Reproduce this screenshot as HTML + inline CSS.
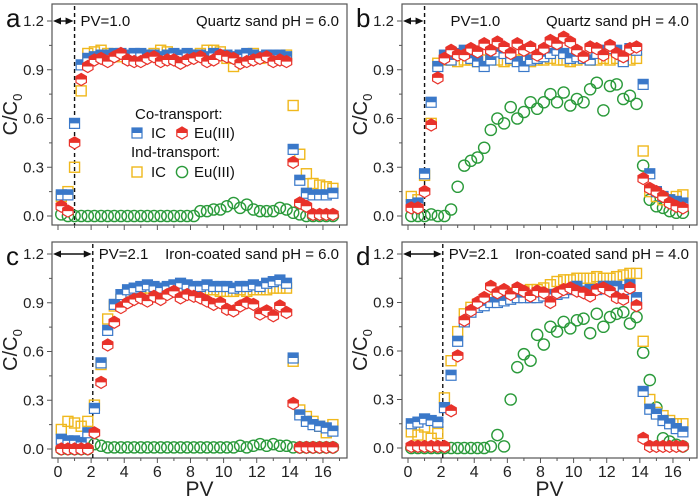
<!DOCTYPE html>
<html><head><meta charset="utf-8"><style>
body{margin:0;background:#fff;}
svg{display:block;font-family:"Liberation Sans",Arial,sans-serif;}
</style></head><body>
<svg id="fig" width="700" height="497" viewBox="0 0 700 497"></svg>
<script>
const pvStart = 0.2, pvStep = 0.4;
const aCoIC=[0.13,0.13,0.57,0.93,0.97,0.98,0.99,0.99,1.0,1.0,0.99,1.0,1.0,0.99,0.99,0.98,0.99,1.0,0.99,1.0,0.99,0.99,0.98,1.0,0.99,0.99,0.98,0.99,1.0,0.99,0.98,0.99,0.99,0.99,0.98,0.41,0.22,0.14,0.13,0.13,0.13,0.14];
const aCoEu=[0.06,0.03,0.45,0.84,0.92,0.96,0.97,0.95,0.98,1.0,0.96,0.95,0.95,0.97,0.98,0.95,0.96,0.96,0.94,0.96,0.97,0.98,0.95,0.96,0.99,0.98,0.97,0.94,0.95,0.96,0.97,0.98,0.95,0.96,0.95,0.33,0.08,0.06,0.01,0.01,0.01,0.01];
const aIndIC=[0.12,0.15,0.3,0.77,1.0,1.01,1.02,1.0,0.99,0.98,0.97,0.98,0.98,0.99,1.0,1.02,1.01,0.99,0.98,0.97,0.99,1.0,1.02,1.02,1.01,0.97,0.92,0.98,0.99,1.0,0.97,0.98,0.96,0.97,0.99,0.68,0.38,0.26,0.2,0.19,0.18,0.17];
const aIndEu=[0.01,0,0,0,0,0,0,0,0,0,0,0,0,0,0,0,0,0,0,0,0,0.03,0.03,0.04,0.04,0.06,0.08,0.05,0.07,0.04,0.03,0.03,0.03,0.05,0.04,0.02,0.01,0,0,0,0,0];
const bCoIC=[0.07,0.08,0.26,0.7,0.92,0.99,0.96,1.0,1.02,0.97,0.95,0.92,0.96,1.01,1.0,0.97,0.95,0.92,0.96,0.97,0.98,1.0,1.02,1.0,0.97,0.98,0.97,0.96,1.0,1.02,1.03,1.02,0.95,1.03,1.02,0.81,0.26,0.15,0.12,0.1,0.09,0.08];
const bCoEu=[0.05,0.05,0.15,0.56,0.85,0.97,1.02,0.99,0.99,1.03,1.01,1.06,1.02,1.07,1.04,1.0,1.06,1.02,1.04,0.99,1.03,1.08,1.06,1.1,1.07,1.02,0.98,1.04,1.03,0.99,1.05,1.0,0.98,1.03,1.04,0.23,0.17,0.15,0.12,0.08,0.06,0.05];
const bIndIC=[0.12,0.1,0.25,0.57,0.94,0.96,0.96,0.95,0.96,0.96,0.95,0.96,0.97,0.96,0.95,0.96,0.96,0.97,0.95,0.96,0.96,0.97,0.96,0.96,0.95,0.96,0.97,0.96,0.96,0.97,0.96,0.97,0.96,0.96,0.97,0.4,0.15,0.12,0.1,0.1,0.12,0.13];
const bIndEu=[0,0,0,0.01,0,0,0.04,0.18,0.31,0.34,0.36,0.42,0.53,0.6,0.57,0.67,0.6,0.64,0.7,0.66,0.7,0.75,0.7,0.76,0.68,0.72,0.7,0.78,0.82,0.65,0.8,0.81,0.72,0.74,0.69,0.31,0.1,0.06,0.05,0.03,0.02,0.02];
const cCoIC=[0.06,0.05,0.05,0.04,0.1,0.25,0.53,0.73,0.89,0.95,0.98,0.99,1.0,1.01,1.0,0.99,1.0,1.01,1.02,1.01,1.0,1.0,1.01,1.0,1.0,1.0,0.99,1.0,1.0,1.01,1.0,1.02,1.03,1.04,1.02,0.56,0.21,0.17,0.15,0.14,0.13,0.11];
const cCoEu=[0,0,0,0,0,0.1,0.41,0.64,0.78,0.87,0.9,0.92,0.93,0.91,0.94,0.92,0.95,0.97,0.93,0.95,0.94,0.93,0.91,0.89,0.9,0.86,0.85,0.88,0.9,0.89,0.83,0.85,0.82,0.88,0.84,0.28,0.01,0.01,0.01,0.01,0.01,0.01];
const cIndIC=[0.12,0.17,0.16,0.14,0.17,0.27,0.52,0.8,0.88,0.92,0.96,0.97,0.98,0.99,0.99,0.98,0.99,1.0,0.99,0.98,0.98,0.97,0.98,0.98,0.97,0.97,0.97,0.98,0.97,0.98,0.98,0.98,0.99,0.99,0.99,0.54,0.24,0.2,0.17,0.14,0.1,0.15];
const cIndEu=[0,0,0,0,0,0.03,0.02,0.01,0.01,0.01,0.01,0.01,0.01,0.01,0.01,0.01,0.01,0.01,0.01,0.01,0.01,0.01,0.01,0.01,0.01,0.01,0.01,0.02,0.01,0.02,0.03,0.02,0.03,0.02,0.02,0.01,0.01,0.01,0.01,0.01,0.01,0.01];
const dCoIC=[0.15,0.16,0.18,0.17,0.16,0.25,0.45,0.66,0.78,0.84,0.87,0.88,0.9,0.9,0.91,0.92,0.93,0.93,0.93,0.93,0.94,0.95,0.95,0.96,0.98,1.0,0.97,0.98,0.98,1.0,1.0,1.0,0.98,1.01,0.93,0.35,0.24,0.21,0.17,0.15,0.12,0.1];
const dCoEu=[0.01,0.01,0.01,0.01,0.01,0.01,0.23,0.57,0.79,0.85,0.9,0.93,1.0,0.96,0.98,0.95,0.99,0.97,0.94,0.97,0.96,0.9,0.96,0.98,0.99,0.97,0.96,0.94,0.98,0.99,0.97,0.93,0.92,0.99,0.88,0.06,0.01,0.01,0.01,0.01,0.01,0.01];
const dIndIC=[0.1,0.08,0.13,0.06,0.09,0.31,0.54,0.72,0.83,0.87,0.89,0.91,0.92,0.94,0.95,0.96,0.97,0.97,0.98,0.98,0.99,1.01,1.03,1.04,1.04,1.05,1.05,1.05,1.06,1.05,1.05,1.06,1.07,1.08,1.08,0.66,0.3,0.22,0.2,0.17,0.15,0.15];
const dIndEu=[0,0,0,0,0,0,0,0,0,0,0,0,0.01,0.08,0.01,0.3,0.5,0.58,0.54,0.7,0.64,0.75,0.72,0.78,0.74,0.79,0.8,0.71,0.83,0.75,0.81,0.83,0.84,0.77,0.81,0.59,0.42,0.25,0.06,0.04,0.02,0.01];
const yTicks=[0.0,0.3,0.6,0.9,1.2];
const xTicks=[0,2,4,6,8,10,12,14,16];
const panels=[
 {id:'a',left:52,top:4,right:347,bottom:225,x0:58,y0:216,yTop:21,pvLine:1.0,pvText:'PV=1.0',title:'Quartz sand   pH = 6.0',xlab:false,legend:true,co:[aCoIC,aCoEu],ind:[aIndIC,aIndEu]},
 {id:'b',left:402,top:4,right:697,bottom:225,x0:408,y0:216,yTop:21,pvLine:1.0,pvText:'PV=1.0',title:'Quartz sand  pH = 4.0',xlab:false,legend:false,co:[bCoIC,bCoEu],ind:[bIndIC,bIndEu]},
 {id:'c',left:52,top:242,right:347,bottom:458,x0:58,y0:449,yTop:254,pvLine:2.1,pvText:'PV=2.1',title:'Iron-coated sand   pH = 6.0',xlab:true,legend:false,co:[cCoIC,cCoEu],ind:[cIndIC,cIndEu]},
 {id:'d',left:402,top:242,right:697,bottom:458,x0:408,y0:448,yTop:254,pvLine:2.1,pvText:'PV=2.1',title:'Iron-coated sand   pH = 4.0',xlab:true,legend:false,co:[dCoIC,dCoEu],ind:[dIndIC,dIndEu]}
];
const NS='http://www.w3.org/2000/svg';
const svg=document.getElementById('fig');
function mk(tag,attrs,parent,text){const e=document.createElementNS(NS,tag);for(const k in attrs)e.setAttribute(k,attrs[k]);if(text!==undefined)e.textContent=text;(parent||svg).appendChild(e);return e;}
const BLUE='#3a78c9',RED='#e8322a',ORANGE='#f0b81c',GREEN='#2a9a3a';
const S=5;
function halfSquare(g,cx,cy,col){
 mk('rect',{x:cx-S,y:cy-S,width:2*S,height:2*S,fill:'#fff',stroke:col,'stroke-width':1.2},g);
 mk('rect',{x:cx-S,y:cy-S,width:2*S,height:S,fill:col},g);
}
function hexPts(cx,cy,r){let p=[];for(let i=0;i<6;i++){const a=Math.PI/6+i*Math.PI/3;p.push((cx+r*Math.cos(a)).toFixed(1)+','+(cy+r*Math.sin(a)).toFixed(1));}return p.join(' ');}
function halfHex(g,cx,cy,col){
 const r=6;
 mk('polygon',{points:hexPts(cx,cy,r),fill:'#fff',stroke:col,'stroke-width':1.2},g);
 mk('polygon',{points:`${cx-r*0.87},${cy} ${cx-r*0.87},${cy-r/2} ${cx},${cy-r} ${cx+r*0.87},${cy-r/2} ${cx+r*0.87},${cy}`,fill:col},g);
}
function openSquare(g,cx,cy,col){mk('rect',{x:cx-S,y:cy-S,width:2*S,height:2*S,fill:'none',stroke:col,'stroke-width':1.4},g);}
function openCircle(g,cx,cy,col){mk('circle',{cx:cx,cy:cy,r:5.6,fill:'none',stroke:col,'stroke-width':1.4},g);}
panels.forEach(p=>{
 const sx=v=>p.x0+v*16.56;
 const sy=v=>p.y0-v*(p.y0-p.yTop)/1.2;
 const g=mk('g',{});
 
 
 mk('rect',{x:p.left,y:p.top,width:p.right-p.left,height:p.bottom-p.top,fill:'none',stroke:'#555','stroke-width':1.2},g);
 const pl=mk('text',{x:p.left-46,y:p.top+23,'font-size':26,fill:'#111'},g,p.id);
 
 
 yTicks.forEach(t=>{const y=sy(t);
  mk('line',{x1:p.left-5,x2:p.left,y1:y,y2:y,stroke:'#555'},g);
  const tl=mk('text',{x:p.left-8,y:y+5,'font-size':15,'text-anchor':'end',fill:'#222'},g,t.toFixed(1));
  
  
 });
 for(let t=0.15;t<1.2;t+=0.3){const y=sy(t);mk('line',{x1:p.left-3,x2:p.left,y1:y,y2:y,stroke:'#555'},g);}
 for(let t=0;t<=17;t++){const x=sx(t);const big=t%2===0;
  mk('line',{x1:x,x2:x,y1:p.bottom,y2:p.bottom+(big?5:3),stroke:'#555'},g);}
 if(p.xlab){xTicks.forEach(t=>{const tl=mk('text',{x:sx(t),y:p.bottom+19,'font-size':16,'text-anchor':'middle',fill:'#222'},g,String(t));
  
  });
  const xl=mk('text',{x:(p.left+p.right)/2,y:p.bottom+38,'font-size':21,'text-anchor':'middle',fill:'#222'},g,'PV');
  
  }
 const yl=mk('text',{x:0,y:0,'font-size':20,'text-anchor':'middle',fill:'#222',transform:`translate(${p.left-35},${(p.top+p.bottom)/2}) rotate(-90)`},g);
 
 
 yl.innerHTML='C/C<tspan font-size="13" dy="5">0</tspan>';
 const lx=sx(p.pvLine);
 const vl=mk('line',{x1:lx,x2:lx,y1:p.top+2,y2:p.bottom,stroke:'#111','stroke-width':1.4,'stroke-dasharray':'4,3'},g);
 
 
 const ay=sy(1.2);
 mk('line',{x1:p.left+6,x2:lx-6,y1:ay,y2:ay,stroke:'#111','stroke-width':1.4},g);
 mk('polygon',{points:`${p.left+1},${ay} ${p.left+9},${ay-3.5} ${p.left+9},${ay+3.5}`,fill:'#111'},g);
 mk('polygon',{points:`${lx-1},${ay} ${lx-9},${ay-3.5} ${lx-9},${ay+3.5}`,fill:'#111'},g);
 const pt=mk('text',{x:p.id==='b'?lx+26:lx+6,y:ay+5,'font-size':15,fill:'#111'},g,p.pvText);
 
 
 const tt=mk('text',{x:p.right-8,y:ay+5,'font-size':15,'text-anchor':'end',fill:'#111','xml:space':'preserve'},g,p.title);
 
 
 const series=[[p.ind[1],openCircle,GREEN,'ind-eu'],[p.ind[0],openSquare,ORANGE,'ind-ic'],[p.co[0],halfSquare,BLUE,'co-ic'],[p.co[1],halfHex,RED,'co-eu']];
 series.forEach(([arr,fn,col,nm])=>{
  const sg=mk('g',{},g);
  
  
  arr.forEach((v,i)=>{const pv=pvStart+i*pvStep;fn(sg,sx(pv),sy(v),col);});
 });
 if(p.legend){
  const lg=mk('g',{},g);
  
  
  mk('text',{x:135,y:119,'font-size':15,fill:'#111'},lg,'Co-transport:');
  halfSquare(lg,137,133,BLUE);mk('text',{x:151,y:138,'font-size':15,fill:'#111'},lg,'IC');
  halfHex(lg,182,133,RED);mk('text',{x:194,y:138,'font-size':15,fill:'#111'},lg,'Eu(III)');
  mk('text',{x:131,y:157,'font-size':15,fill:'#111'},lg,'Ind-transport:');
  openSquare(lg,137,172,ORANGE);mk('text',{x:151,y:177,'font-size':15,fill:'#111'},lg,'IC');
  openCircle(lg,182,172,GREEN);mk('text',{x:194,y:177,'font-size':15,fill:'#111'},lg,'Eu(III)');
 }
});
</script>
</body></html>
